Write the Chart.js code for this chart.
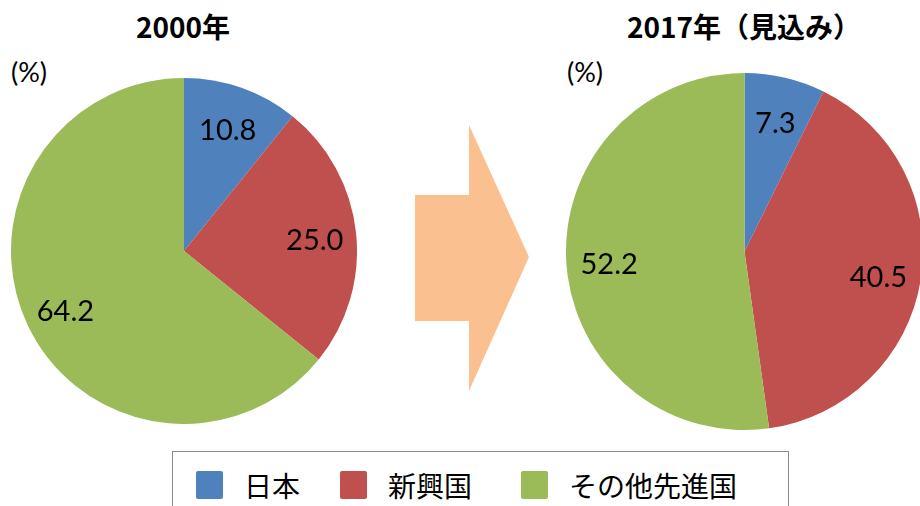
<!DOCTYPE html>
<html>
<head>
<meta charset="utf-8">
<script src="https://cdn.jsdelivr.net/npm/chart.js@4.4.0/dist/chart.umd.min.js"></script>
<style>
  html, body { margin: 0; padding: 0; background: #fff; }
  body { width: 920px; height: 506px; position: relative; overflow: hidden;
         font-family: "Noto Sans CJK JP", "Noto Sans", sans-serif; color: #000; }
  .title { position: absolute; top: 9px; font-size: 28px; line-height: 34px; font-weight: bold; text-align: center; white-space: nowrap; }
  .unit { position: absolute; top: 56px; font-size: 27px; line-height: 32px; font-family: Lato, "Noto Sans", sans-serif; }
  .pie { position: absolute; }
  #arrow { position: absolute; left: 415px; top: 125px; width: 114px; height: 266px; background: #FAC090;
           clip-path: polygon(0 70px, 54px 70px, 54px 0, 114px 132px, 54px 266px, 54px 196px, 0 196px); }
  #legend { position: absolute; left: 172px; top: 451px; width: 617px; height: 70px;
            border: 1.5px solid #8c8c8c; box-sizing: border-box; }
  .item { position: absolute; top: 16px; height: 34px; display: flex; align-items: center;
          font-size: 28px; white-space: nowrap; }
  .item span { display: inline-block; width: 27px; height: 28px; border-radius: 2px; margin-right: 21px; }
</style>
</head>
<body>
<div class="title" style="left:83px;width:200px">2000年</div>
<div class="title" style="left:594px;width:300px">2017年（見込み）</div>
<div class="unit" style="left:11px">(%)</div>
<div class="unit" style="left:567px">(%)</div>

<div class="pie" style="left:11px;top:78px;width:346px;height:346px"><canvas id="pie2000"></canvas></div>
<div class="pie" style="left:566px;top:73px;width:357px;height:357px"><canvas id="pie2017"></canvas></div>

<div id="arrow"></div>

<div id="legend"></div>

<script>
// === DATA ===
const categories = ["日本", "新興国", "その他先進国"];
const share2000 = [10.8, 25.0, 64.2];
const share2017 = [7.3, 40.5, 52.2];
const colors = ["#4F81BD", "#C0504D", "#9BBB59"];

// draw the value inside each slice
const sliceLabels = {
  id: "sliceLabels",
  afterDatasetsDraw(chart) {
    const ctx = chart.ctx;
    const meta = chart.getDatasetMeta(0);
    const values = chart.data.datasets[0].data;
    ctx.save();
    ctx.font = "29px Lato, 'Noto Sans', sans-serif";
    ctx.fillStyle = "#000";
    ctx.textAlign = "center";
    ctx.textBaseline = "middle";
    meta.data.forEach((arc, i) => {
      const p = arc.getProps(["x", "y", "startAngle", "endAngle", "outerRadius"], true);
      const mid = (p.startAngle + p.endAngle) / 2;
      const r = p.outerRadius * 0.76;
      ctx.fillText(values[i].toFixed(1), p.x + Math.cos(mid) * r, p.y + Math.sin(mid) * r + 4);
    });
    ctx.restore();
  },
};

function makePie(id, values) {
  return new Chart(document.getElementById(id), {
    type: "pie",
    data: {
      labels: categories,
      datasets: [{ data: values, backgroundColor: colors, borderWidth: 0, hoverOffset: 0 }],
    },
    options: {
      responsive: true,
      maintainAspectRatio: false,
      animation: false,
      events: [],
      layout: { padding: 0 },
      plugins: { legend: { display: false }, tooltip: { enabled: false } },
    },
    plugins: [sliceLabels],
  });
}

makePie("pie2000", share2000);
makePie("pie2017", share2017);

// shared legend
const legend = document.getElementById("legend");
const itemLeft = [23, 167, 348];
categories.forEach((name, i) => {
  const div = document.createElement("div");
  div.className = "item";
  div.style.left = itemLeft[i] + "px";
  div.innerHTML = `<span style="background:${colors[i]}"></span>${name}`;
  legend.appendChild(div);
});
</script>
</body>
</html>
